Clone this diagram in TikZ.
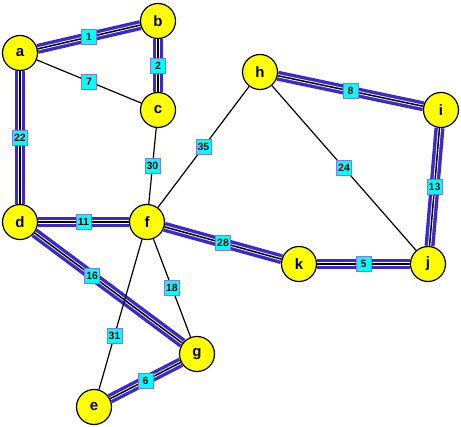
\documentclass[tikz,border=0pt]{standalone}
\usepackage{fontspec}
\setmainfont{Liberation Sans}
\usetikzlibrary{backgrounds}
\definecolor{mstblue}{RGB}{58,40,210}
\definecolor{boxline}{RGB}{120,120,255}
\definecolor{boxfill}{RGB}{0,255,255}
\definecolor{vfill}{RGB}{255,255,0}

\begin{document}
\begin{tikzpicture}[x=1pt,y=-1pt,
    vertex/.style={circle,draw,line width=1.2pt,fill=vfill,minimum size=35pt,inner sep=0pt,
      font=\bfseries\fontsize{15}{15}\selectfont},
    wlabel/.style={rectangle,draw=boxline,fill=boxfill,line width=0.8pt,inner sep=1.5pt,
      minimum height=15pt,minimum width=15pt,font=\bfseries\fontsize{10.5}{10.5}\selectfont},
    plain/.style={line width=1.2pt},
    mst/.style={line width=1.5pt,preaction={draw,mstblue,line width=10pt},
      preaction={draw,white,line width=3.2pt}}]

    % fixes the frame of the picture
    \useasboundingbox (0,0) rectangle (461,427);

    % 1. the vertices
    \node[vertex] (a) at (20,53) {a};
    \node[vertex] (b) at (158,21) {b};
    \node[vertex] (c) at (158,110) {c};
    \node[vertex] (d) at (20,222) {d};
    \node[vertex] (f) at (147,222) {f};
    \node[vertex] (h) at (260,72) {h};
    \node[vertex] (i) at (441,110) {i};
    \node[vertex] (j) at (428,264) {j};
    \node[vertex] (k) at (299,264) {k};
    \node[vertex] (g) at (197,354) {g};
    \node[vertex] (e) at (94,407) {e};

    \begin{scope}[on background layer]
      % 2. edges that belong to the tree
      \draw[mst] (a) -- node[wlabel] {1} (b);
      \draw[mst] (b) -- node[wlabel] {2} (c);
      \draw[mst] (a) -- node[wlabel] {22} (d);
      \draw[mst] (d) -- node[wlabel] {11} (f);
      \draw[mst] (d) -- node[wlabel,pos=0.39] {16} (g);
      \draw[mst] (e) -- node[wlabel] {6} (g);
      \draw[mst] (f) -- node[wlabel] {28} (k);
      \draw[mst] (k) -- node[wlabel] {5} (j);
      \draw[mst] (i) -- node[wlabel] {13} (j);
      \draw[mst] (h) -- node[wlabel] {8} (i);

      % 3. the other edges
      \draw[plain] (a) -- node[wlabel] {7} (c);
      \draw[plain] (c) -- node[wlabel] {30} (f);
      \draw[plain] (f) -- node[wlabel] {35} (h);
      \draw[plain] (h) -- node[wlabel] {24} (j);
      \draw[plain] (f) -- node[wlabel] {18} (g);
      \draw[plain] (f) -- node[wlabel,pos=0.64] {31} (e);
    \end{scope}

\end{tikzpicture}
\end{document}
